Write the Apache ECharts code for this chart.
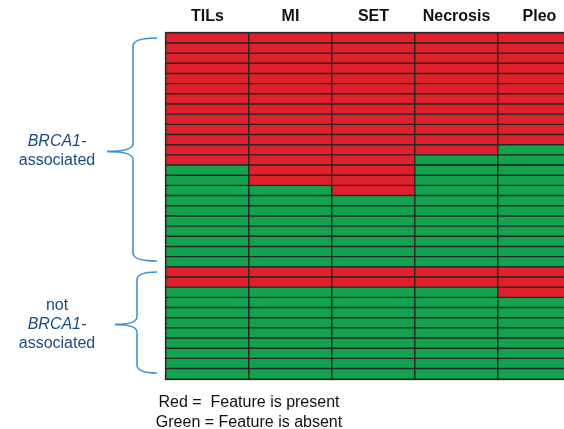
<!DOCTYPE html>
<html><head><meta charset="utf-8">
<script src="https://cdn.jsdelivr.net/npm/echarts@6/dist/echarts.min.js"></script>
<style>html,body{margin:0;padding:0;background:#fff}#c{width:564px;height:429px}</style>
</head><body><div id="c"></div><script>
// ---- data ----
const features = ['TILs', 'MI', 'SET', 'Necrosis', 'Pleo'];
const rows = ['T1','T2','T3','T4','T5','T6','T7','T8','T9','T10','T11','T12','T13','T14','T15','T16','T17',
              'T18','T19','T20','T21','T22','T23','T24','T25','T26','T27','T28','T29','T30','T31','T32','T33','T34'];
// 1 = feature present (red), 0 = absent (green)
const TILs     = [1,1,1,1,1,1,1,1,1,1, 1,1,1,0,0,0,0,0,0,0, 0,0,0,1,1,0,0,0,0,0, 0,0,0,0];
const MI       = [1,1,1,1,1,1,1,1,1,1, 1,1,1,1,1,0,0,0,0,0, 0,0,0,1,1,0,0,0,0,0, 0,0,0,0];
const SET      = [1,1,1,1,1,1,1,1,1,1, 1,1,1,1,1,1,0,0,0,0, 0,0,0,1,1,0,0,0,0,0, 0,0,0,0];
const Necrosis = [1,1,1,1,1,1,1,1,1,1, 1,1,0,0,0,0,0,0,0,0, 0,0,0,1,1,0,0,0,0,0, 0,0,0,0];
const Pleo     = [1,1,1,1,1,1,1,1,1,1, 1,0,0,0,0,0,0,0,0,0, 0,0,0,1,1,1,0,0,0,0, 0,0,0,0];
const groupNames = ['BRCA1-associated', 'not BRCA1-associated'];
const groupFirstRow = [0, 23];
const groupLastRow = [22, 33];
const legendLines = ['Red =  Feature is present', 'Green = Feature is absent'];

// ---- build ----
const columns = [TILs, MI, SET, Necrosis, Pleo];
const heat = [];
columns.forEach((col, ci) => col.forEach((v, ri) => heat.push([ci, ri, v])));

const RED = '#E0212B', GREEN = '#13A34F', FONT = '"Liberation Sans", Arial, Helvetica, sans-serif';
const chart = echarts.init(document.getElementById('c'), null, {renderer: 'canvas'});
const gridLeft = 166, gridTop = 33;
chart.setOption({
  animation: false,
  grid: {left: gridLeft, top: gridTop, width: 415, height: 346, outerBoundsMode: 'none', containLabel: false,
    show: true, borderColor: '#c8c8c8', borderWidth: 3, backgroundColor: 'transparent'},
  xAxis: {type: 'category', position: 'top', data: features,
    axisLine: {show: false}, axisTick: {show: false}, splitLine: {show: false},
    axisLabel: {interval: 0, hideOverlap: false, margin: 8, fontFamily: FONT, fontWeight: 'bold', fontSize: 16, color: '#111'}},
  yAxis: {type: 'category', inverse: true, data: rows, axisLine: {show: false}, axisTick: {show: false},
    axisLabel: {show: false}, splitLine: {show: false}},
  visualMap: {type: 'piecewise', show: false, dimension: 2,
    pieces: [{value: 0, color: GREEN}, {value: 1, color: RED}]},
  series: [{type: 'heatmap', data: heat,
    itemStyle: {borderColor: '#262626', borderWidth: 1.4},
    emphasis: {disabled: true}}]
});

// braces & labels
const braceStyle = [{sx: 133, tx: 107, ex: 157}, {sx: 137, tx: 115, ex: 157}];
const BLUE = '#3E8FD3', TEXTBLUE = '#1B4A82';
const h = chart.convertToPixel({yAxisIndex: 0}, rows[1]) - chart.convertToPixel({yAxisIndex: 0}, rows[0]);
const graphics = [];
const st = {stroke: BLUE, lineWidth: 1.6, fill: null};
function q(x1, y1, cx, cy, x2, y2) {
  return {type: 'bezierCurve', shape: {x1, y1, x2, y2, cpx1: cx, cpy1: cy}, style: st};
}
function ln(x1, y1, x2, y2) {
  return {type: 'line', shape: {x1, y1, x2, y2}, style: st};
}
groupNames.forEach((name, gi) => {
  const yA = chart.convertToPixel({yAxisIndex: 0}, rows[groupFirstRow[gi]]) - h / 2;
  const yB = chart.convertToPixel({yAxisIndex: 0}, rows[groupLastRow[gi]]) + h / 2;
  const y0 = yA + 5, y1 = yB - 6, ym = (yA + yB) / 2 + 1.5;
  const {sx, tx, ex} = braceStyle[gi];
  const r = 8;
  graphics.push(q(ex, y0, sx, y0, sx, y0 + r));
  graphics.push(ln(sx, y0 + r, sx, ym - r));
  graphics.push(q(sx, ym - r, sx, ym, tx, ym));
  graphics.push(q(tx, ym, sx, ym, sx, ym + r));
  graphics.push(ln(sx, ym + r, sx, y1 - r));
  graphics.push(q(sx, y1 - r, sx, y1, ex, y1));
  const lines = name.startsWith('not') ? ['{n|not}', '{i|BRCA1-}', '{n|associated}'] : ['{i|BRCA1-}', '{n|associated}'];
  graphics.push({type: 'text', x: 57, y: ym, style: {
    text: lines.join('\n'), align: 'center', verticalAlign: 'middle', fill: TEXTBLUE,
    fontFamily: FONT, fontSize: 16, lineHeight: 19,
    rich: {i: {fontStyle: 'italic', fontFamily: FONT, fontSize: 16, lineHeight: 19, fill: TEXTBLUE},
           n: {fontFamily: FONT, fontSize: 16, lineHeight: 19, fill: TEXTBLUE}}}});
});
legendLines.forEach((t, i) => {
  graphics.push({type: 'text', x: 249, y: 403 + i * 19.5, style: {text: t, align: 'center', verticalAlign: 'middle',
    fill: '#111', fontFamily: FONT, fontSize: 16}});
});
chart.setOption({graphic: graphics});
</script></body></html>
